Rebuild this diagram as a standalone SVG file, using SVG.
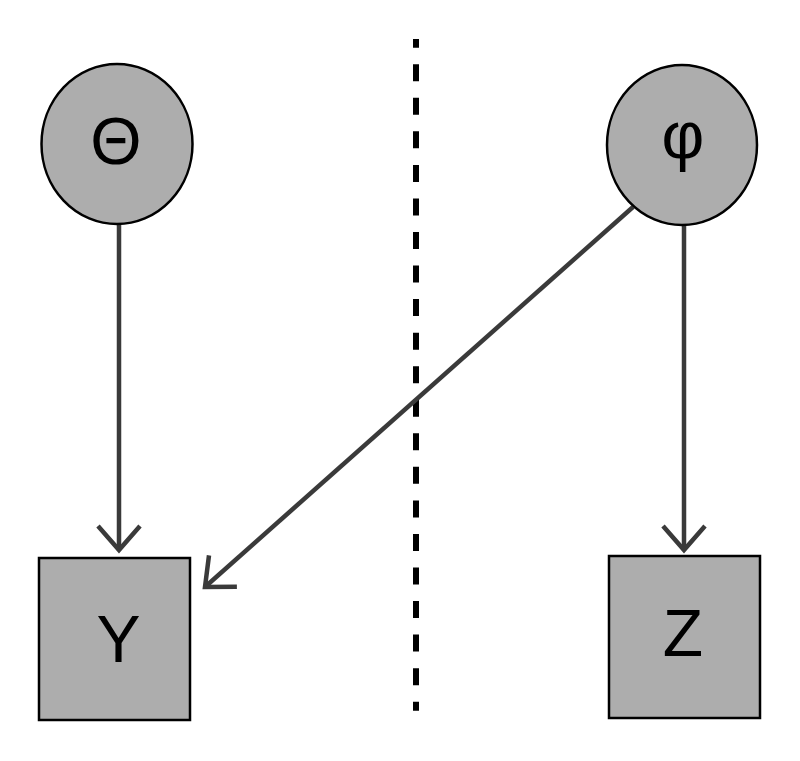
<svg xmlns="http://www.w3.org/2000/svg" width="800" height="761" viewBox="0 0 800 761">
<style>
.node{fill:#adadad;stroke:#000;stroke-width:2.5}
.lbl{font-family:"Liberation Sans",Arial,sans-serif;font-size:66px;fill:#000;text-anchor:middle}
.edge{stroke:#3a3a3a;stroke-width:4.5;fill:none}
.sep{stroke:#000;stroke-width:6;stroke-dasharray:17 16.55}
</style>
<defs>
<marker id="arr" markerUnits="userSpaceOnUse" markerWidth="60" markerHeight="60" refX="30" refY="30" orient="auto" overflow="visible">
<path d="M6,9 L30,30 L6,51" fill="none" stroke="#3a3a3a" stroke-width="4.5"/>
</marker>
</defs>
<rect width="800" height="761" fill="#fff"/>
<line class="sep" x1="416" y1="39" x2="416" y2="710.7" stroke-dashoffset="8.3"/>
<g id="connectors">
<line class="edge" x1="119" y1="225" x2="119" y2="550" marker-end="url(#arr)"/>
<line class="edge" x1="684" y1="225" x2="684" y2="550" marker-end="url(#arr)"/>
<line class="edge" x1="633" y1="207" x2="205" y2="587" marker-end="url(#arr)"/>
</g>
<g id="theta">
<ellipse class="node" cx="117" cy="144" rx="75.5" ry="80"/>
<text class="lbl" x="116" y="164">Θ</text>
</g>
<g id="phi">
<ellipse class="node" cx="682" cy="145" rx="75" ry="80"/>
<text class="lbl" x="683" y="158">φ</text>
</g>
<g id="Y">
<rect class="node" x="39" y="558" width="151" height="162"/>
<text class="lbl" x="118.5" y="662">Y</text>
</g>
<g id="Z">
<rect class="node" x="609" y="556" width="151" height="162"/>
<text class="lbl" x="683" y="656">Z</text>
</g>
</svg>
